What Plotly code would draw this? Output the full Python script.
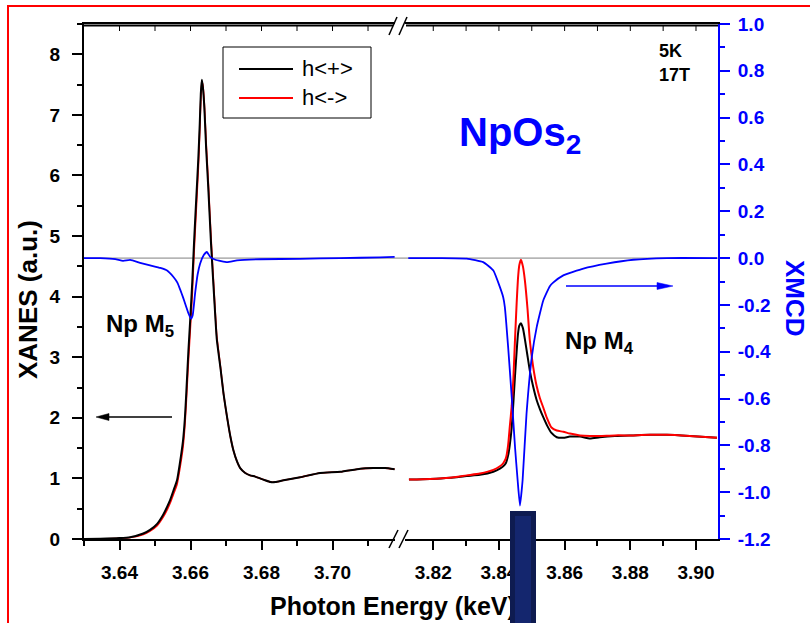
import plotly.graph_objects as go

# ---------------- Np M5 edge (left panel) ----------------
e_m5 = [3.6300, 3.6346, 3.6400, 3.6430, 3.6467, 3.6486, 3.6506, 3.6523, 3.6534, 3.6543,
        3.6552, 3.6562, 3.6570, 3.6579, 3.6584, 3.6588, 3.6594, 3.6599, 3.6605, 3.6610,
        3.6616, 3.6622, 3.6626, 3.6629, 3.6632, 3.6635, 3.6639, 3.6644, 3.6650, 3.6658,
        3.6667, 3.6674, 3.6684, 3.6693, 3.6703, 3.6712, 3.6721, 3.6731, 3.6740, 3.6754,
        3.6768, 3.6782, 3.6796, 3.6810, 3.6825, 3.6839, 3.6862, 3.6909, 3.6965, 3.7022,
        3.7078, 3.7115, 3.7148, 3.7175]
xanes_plus_m5 = [0.00, 0.004, 0.015, 0.03, 0.09, 0.15, 0.25, 0.40, 0.53, 0.65,
                 0.80, 0.97, 1.25, 1.63, 1.98, 2.40, 3.10, 3.60, 4.25, 4.90,
                 5.60, 6.28, 6.85, 7.35, 7.58, 7.45, 7.12, 6.45, 5.80, 4.85,
                 3.95, 3.30, 2.84, 2.40, 2.01, 1.70, 1.46, 1.28, 1.17, 1.09,
                 1.05, 1.03, 1.00, 0.97, 0.94, 0.94, 0.97, 1.02, 1.09, 1.11,
                 1.16, 1.17, 1.17, 1.15]
xanes_minus_m5 = [0.00, 0.003, 0.012, 0.025, 0.075, 0.13, 0.22, 0.36, 0.48, 0.60,
                  0.74, 0.90, 1.16, 1.52, 1.86, 2.25, 2.92, 3.42, 4.05, 4.72,
                  5.42, 6.12, 6.72, 7.25, 7.55, 7.48, 7.18, 6.55, 5.90, 4.95,
                  4.02, 3.35, 2.86, 2.40, 2.01, 1.70, 1.46, 1.28, 1.17, 1.09,
                  1.05, 1.03, 1.00, 0.97, 0.94, 0.94, 0.97, 1.02, 1.09, 1.11,
                  1.16, 1.17, 1.17, 1.15]
e_m5_xmcd = [3.6300, 3.6346, 3.6388, 3.6410, 3.6430, 3.6458, 3.6486, 3.6515, 3.6534, 3.6552,
             3.6563, 3.6571, 3.6579, 3.6585, 3.6594, 3.6601, 3.6606, 3.6613, 3.6620, 3.6627,
             3.6637, 3.6646, 3.6656, 3.6670, 3.6703, 3.6731, 3.6796, 3.6909, 3.7022, 3.7134,
             3.7175]
xmcd_m5 = [0.000, 0.000, -0.004, -0.012, -0.008, -0.020, -0.031, -0.042, -0.053, -0.081,
           -0.105, -0.135, -0.168, -0.195, -0.235, -0.259, -0.245, -0.150, -0.070, -0.024,
           0.012, 0.026, 0.004, -0.007, -0.017, -0.010, -0.005, -0.003, 0.000, 0.003,
           0.005]

# ---------------- Np M4 edge (right panel) ----------------
e_m4 = [3.8126, 3.8190, 3.8251, 3.8302, 3.8342, 3.8383, 3.8403, 3.8413, 3.8421, 3.8428,
        3.8433, 3.8439, 3.8444, 3.8449, 3.8454, 3.8458, 3.8462, 3.8467, 3.8473, 3.8479,
        3.8487, 3.8494, 3.8504, 3.8515, 3.8525, 3.8535, 3.8546, 3.8560, 3.8576, 3.8596,
        3.8616, 3.8647, 3.8677, 3.8707, 3.8753, 3.8809, 3.8860, 3.8911, 3.8981, 3.9064]
xanes_plus_m4 = [0.98, 0.99, 1.01, 1.04, 1.06, 1.11, 1.16, 1.20, 1.25, 1.38,
                 1.55, 1.85, 2.25, 2.70, 3.10, 3.38, 3.52, 3.56, 3.48, 3.30,
                 3.02, 2.78, 2.52, 2.29, 2.14, 2.01, 1.88, 1.75, 1.68, 1.67,
                 1.69, 1.69, 1.66, 1.68, 1.70, 1.71, 1.72, 1.72, 1.70, 1.67]
xanes_minus_m4 = [0.98, 0.99, 1.01, 1.05, 1.08, 1.14, 1.20, 1.25, 1.33, 1.55,
                  1.85, 2.20, 2.65, 3.30, 3.90, 4.30, 4.52, 4.61, 4.50, 4.27,
                  3.80, 3.28, 2.85, 2.52, 2.32, 2.17, 2.00, 1.84, 1.79, 1.77,
                  1.74, 1.71, 1.70, 1.70, 1.71, 1.71, 1.72, 1.72, 1.70, 1.67]
e_m4_xmcd = [3.8124, 3.8220, 3.8302, 3.8352, 3.8383, 3.8403, 3.8413, 3.8418, 3.8428, 3.8439,
             3.8449, 3.8457, 3.8464, 3.8472, 3.8484, 3.8500, 3.8515, 3.8535, 3.8555, 3.8565,
             3.8596, 3.8657, 3.8728, 3.8809, 3.8911, 3.9064]
xmcd_m4 = [0.0, 0.0, -0.002, -0.017, -0.053, -0.124, -0.167, -0.209, -0.38, -0.594,
           -0.808, -0.95, -1.057, -0.95, -0.665, -0.423, -0.295, -0.181, -0.12, -0.105,
           -0.074, -0.045, -0.024, -0.007, 0.0, 0.0]

# ---------------- ticks ----------------
m5_ticks = [3.64, 3.66, 3.68, 3.70]
m5_ticktext = ["3.64", "3.66", "3.68", "3.70"]
m4_ticks = [3.82, 3.84, 3.86, 3.88, 3.90]
m4_ticktext = ["3.82", "3.84", "3.86", "3.88", "3.90"]
m5_top_ticks = [3.64, 3.65, 3.66, 3.67, 3.68, 3.69, 3.70, 3.71]
m4_top_ticks = [3.82, 3.83, 3.84, 3.85, 3.86, 3.87, 3.88, 3.89, 3.90]
xanes_ticks = [0, 1, 2, 3, 4, 5, 6, 7, 8]
xanes_ticktext = ["0", "1", "2", "3", "4", "5", "6", "7", "8"]
xmcd_ticks = [-1.2, -1.0, -0.8, -0.6, -0.4, -0.2, 0.0, 0.2, 0.4, 0.6, 0.8, 1.0]
xmcd_ticktext = ["-1.2", "-1.0", "-0.8", "-0.6", "-0.4", "-0.2",
                 "0.0", "0.2", "0.4", "0.6", "0.8", "1.0"]

# ---------------- frame geometry (pixels) ----------------
W, H = 810, 623
L, R, T, B = 84, 718, 24, 539


def px(x):
    return (x - L) / (R - L)


def py(y):
    return (B - y) / (B - T)


FONT = "Liberation Sans, Arial, sans-serif"
BLUE = "#0000ff"
BLACK = "#000000"
RED = "#ff0000"

m5_range = [3.6300, 3.7176]
m4_range = [3.8114, 3.9067]
m5_domain = [0.0, px(395)]
m4_domain = [px(405), 1.0]

fig = go.Figure()

# XANES spectra
fig.add_trace(go.Scatter(x=e_m5, y=xanes_minus_m5, mode="lines", name="h<->",
                         line=dict(color=RED, width=1.6, shape="spline", smoothing=0.5),
                         xaxis="x", yaxis="y"))
fig.add_trace(go.Scatter(x=e_m5, y=xanes_plus_m5, mode="lines", name="h<+>",
                         line=dict(color=BLACK, width=2, shape="spline", smoothing=0.5),
                         xaxis="x", yaxis="y"))
fig.add_trace(go.Scatter(x=e_m4, y=xanes_plus_m4, mode="lines", name="h<+>",
                         line=dict(color=BLACK, width=2, shape="spline", smoothing=0.5),
                         xaxis="x2", yaxis="y"))
fig.add_trace(go.Scatter(x=e_m4, y=xanes_minus_m4, mode="lines", name="h<->",
                         line=dict(color=RED, width=2, shape="spline", smoothing=0.5),
                         xaxis="x2", yaxis="y"))
# XMCD
fig.add_trace(go.Scatter(x=e_m5_xmcd, y=xmcd_m5, mode="lines", name="XMCD",
                         line=dict(color=BLUE, width=1.8, shape="spline", smoothing=0.4),
                         xaxis="x", yaxis="y2"))
fig.add_trace(go.Scatter(x=e_m4_xmcd, y=xmcd_m4, mode="lines", name="XMCD",
                         line=dict(color=BLUE, width=1.8, shape="spline", smoothing=0.4),
                         xaxis="x2", yaxis="y2"))

tickfont = dict(family=FONT, size=19, color=BLACK, weight="bold")
bottom_common = dict(showline=True, linewidth=2, linecolor=BLACK, showgrid=False, zeroline=False,
                     mirror=True,
                     ticks="outside", ticklen=9, tickwidth=2, tickcolor=BLACK,
                     tickfont=tickfont, ticklabelstandoff=6, tickmode="array")

fig.update_layout(
    width=W, height=H, autosize=False,
    margin=dict(l=L, r=W - R, t=T, b=H - B, pad=0),
    paper_bgcolor="white", plot_bgcolor="white",
    showlegend=False,
    xaxis=dict(domain=m5_domain, range=m5_range, anchor="y",
               tickvals=m5_ticks, ticktext=m5_ticktext,
               minor=dict(ticks="outside", ticklen=5, tickwidth=2, tickcolor=BLACK,
                          tickmode="linear", tick0=3.63, dtick=0.01),
               **bottom_common),
    xaxis2=dict(domain=m4_domain, range=m4_range, anchor="y",
                tickvals=m4_ticks, ticktext=m4_ticktext,
                minor=dict(ticks="outside", ticklen=5, tickwidth=2, tickcolor=BLACK,
                           tickmode="linear", tick0=3.81, dtick=0.01),
                **bottom_common),
    yaxis=dict(domain=[0, 1], range=[0, 8.5], anchor="x",
               showline=True, linewidth=2, linecolor=BLACK, showgrid=False, zeroline=False,
               ticks="outside", ticklen=10, tickwidth=2, tickcolor=BLACK,
               tickmode="array", tickvals=xanes_ticks, ticktext=xanes_ticktext,
               tickfont=tickfont, ticklabelstandoff=8,
               minor=dict(ticks="outside", ticklen=5, tickwidth=2, tickcolor=BLACK,
                          tickmode="linear", tick0=0, dtick=0.5)),
    yaxis2=dict(overlaying="y", side="right", anchor="x2", range=[-1.2, 1.0],
                showline=True, linewidth=2, linecolor=BLUE, showgrid=False, zeroline=False,
                ticks="outside", ticklen=10, tickwidth=2, tickcolor=BLUE,
                tickmode="array", tickvals=xmcd_ticks, ticktext=xmcd_ticktext,
                tickfont=dict(family=FONT, size=19, color=BLUE, weight="bold"),
                ticklabelstandoff=4,
                minor=dict(ticks="outside", ticklen=5, tickwidth=2, tickcolor=BLUE,
                           tickmode="linear", tick0=-1.2, dtick=0.1)),
)

shapes = []
# XMCD zero reference line across both panels
shapes.append(dict(type="line", xref="paper", yref="y2", x0=0, x1=1, y0=0, y1=0,
                   line=dict(color="#808080", width=1), layer="below"))

# top frame of each panel (drawn a touch inside the plot edge), with small inward ticks
for (xa, xb) in [(84, 393), (406, 718)]:
    shapes.append(dict(type="line", xref="paper", yref="paper",
                       x0=px(xa), x1=px(xb), y0=py(25.5), y1=py(25.5),
                       line=dict(color=BLACK, width=2), layer="above"))
for xref, vals in (("x", m5_top_ticks), ("x2", m4_top_ticks)):
    for v in vals:
        shapes.append(dict(type="line", xref=xref, yref="paper", x0=v, x1=v,
                           y0=py(31), y1=py(25.5), line=dict(color=BLACK, width=1),
                           layer="above"))

# axis break marks (top and bottom)
for (x0, y0, x1, y1) in [(389, 548, 398, 530), (399, 548, 408, 530),
                         (389, 35, 397, 17), (399, 35, 407, 17)]:
    shapes.append(dict(type="line", xref="paper", yref="paper",
                       x0=px(x0), y0=py(y0), x1=px(x1), y1=py(y1),
                       line=dict(color=BLACK, width=1.5)))


def arrow(x_tail, x_head, y, color, head_len, head_half):
    d = 1 if x_head > x_tail else -1
    base = x_head - d * head_len
    shapes.append(dict(type="line", xref="paper", yref="paper",
                       x0=px(x_tail), x1=px(base), y0=py(y), y1=py(y),
                       line=dict(color=color, width=1.5)))
    path = "M {} {} L {} {} L {} {} Z".format(px(x_head), py(y), px(base), py(y - head_half),
                                              px(base), py(y + head_half))
    shapes.append(dict(type="path", xref="paper", yref="paper", path=path,
                       fillcolor=color, line=dict(color=color, width=0.5)))


arrow(172, 96, 417, BLACK, 13, 3.5)
arrow(566, 673, 286, BLUE, 16, 3.5)

# legend box
shapes.append(dict(type="rect", xref="paper", yref="paper",
                   x0=px(223), x1=px(371), y0=py(47), y1=py(118),
                   line=dict(color=BLACK, width=1), fillcolor="white"))
shapes.append(dict(type="line", xref="paper", yref="paper", x0=px(239), x1=px(293),
                   y0=py(69), y1=py(69), line=dict(color=BLACK, width=2)))
shapes.append(dict(type="line", xref="paper", yref="paper", x0=px(239), x1=px(293),
                   y0=py(98), y1=py(98), line=dict(color=RED, width=2)))

# outer frame
shapes.append(dict(type="rect", xref="paper", yref="paper",
                   x0=px(8), x1=px(840), y0=py(6), y1=py(650),
                   line=dict(color=RED, width=2), fillcolor="rgba(0,0,0,0)"))

fig.update_layout(shapes=shapes)

ann = []


def text(x, y, s, size, color=BLACK, bold=True, xanchor="left", angle=0):
    ann.append(dict(xref="paper", yref="paper", x=px(x), y=py(y), text=s, showarrow=False,
                    xanchor=xanchor, yanchor="middle", textangle=angle,
                    font=dict(family=FONT, size=size, color=color,
                              weight="bold" if bold else "normal")))


text(300, 69, "h&lt;+&gt;", 22, bold=False)
text(300, 98, "h&lt;-&gt;", 22, bold=False)
text(520, 135, "NpOs<sub>2</sub>", 40, color=BLUE, xanchor="center")
text(657, 51, "5K", 18)
text(657, 75, "17T", 18)
text(104, 325, "Np M<sub>5</sub>", 24)
text(563, 342, "Np M<sub>4</sub>", 24)
text(28, 299, "XANES (a.u.)", 26, xanchor="center", angle=-90)
text(795, 298, "XMCD", 26, color=BLUE, xanchor="center", angle=90)
text(393, 606, "Photon Energy (keV)", 25, xanchor="center")

# dark marker block over the axis near 3.85 keV
ann.append(dict(xref="paper", yref="paper", x=px(523), y=py(511), text=" ", showarrow=False,
                xanchor="center", yanchor="top", width=16, height=130,
                bgcolor="#14266e", bordercolor="#0e1b50", borderwidth=5, borderpad=0))

fig.update_layout(annotations=ann)

fig.write_html("out.html")
